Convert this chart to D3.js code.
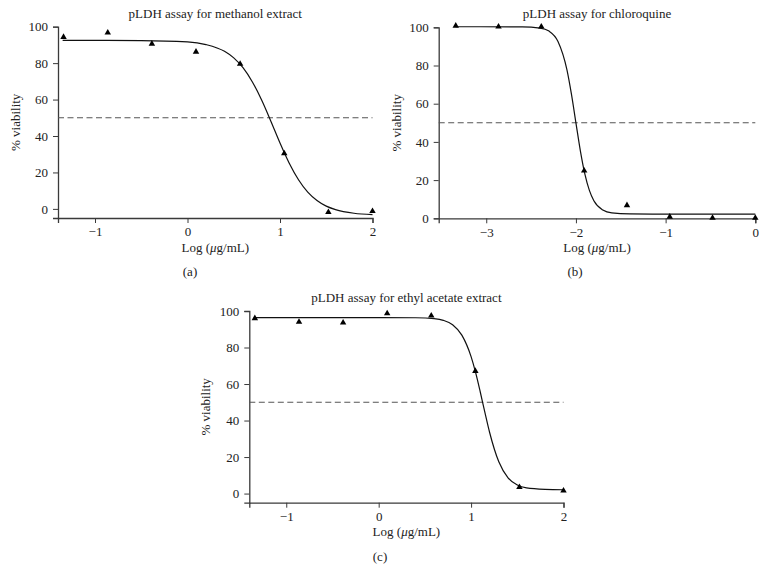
<!DOCTYPE html>
<html>
<head>
<meta charset="utf-8">
<script src="https://cdn.jsdelivr.net/npm/d3@7"></script>
<style>
  html, body { margin: 0; padding: 0; background: #fff; }
  svg { display: block; }
  text { font-family: "Liberation Serif", "DejaVu Serif", serif; fill: #222; }
</style>
</head>
<body>
<svg id="chart" width="766" height="584"></svg>
<script>
// ---------- Data ----------
const titles = ["pLDH assay for methanol extract", "pLDH assay for chloroquine", "pLDH assay for ethyl acetate extract"];
const captions = ["(a)", "(b)", "(c)"];
const xLabelParts = ["Log (", "\u03bc", "g/mL)"];
const yLabel = "% viability";

// panel (a) methanol extract
const methanolLogConc = [-1.340, -0.862, -0.385, 0.092, 0.569, 1.046, 1.523, 2.0];
const methanolViability = [94.3, 96.7, 90.6, 86.2, 79.6, 30.4, -1.8, -1.3];
const methanolCurveX = [-1.35, -0.5, 0, 0.2, 0.4, 0.5, 0.6, 0.7, 0.8, 0.9, 1.0, 1.1, 1.2, 1.3, 1.4, 1.5, 1.6, 1.8, 2.0];
const methanolCurveY = [92.5, 92.4, 91.7, 90.2, 86.5, 82.9, 77.5, 69.8, 59.9, 48.3, 36.2, 25.1, 16.0, 9.2, 4.6, 1.5, -0.4, -2.4, -3.1];
const methanolXTicks = [-1, 0, 1, 2];

// panel (b) chloroquine
const chloroLogConc = [-3.340, -2.863, -2.386, -1.908, -1.431, -0.954, -0.477, 0];
const chloroViability = [100.8, 100.3, 100.3, 24.9, 6.8, 0.8, 0.2, 0.2];
const chloroCurveX = [-3.34, -2.6, -2.4, -2.3, -2.2, -2.1, -2.05, -2.0, -1.95, -1.9, -1.85, -1.8, -1.7, -1.6, -1.4, -1.0, 0];
const chloroCurveY = [100.3, 100.25, 99.6, 98.0, 92.6, 77.7, 65.0, 50.0, 35.2, 23.1, 14.6, 9.2, 4.3, 2.8, 2.3, 2.2, 2.2];
const chloroXTicks = [-3, -2, -1, 0];

// panel (c) ethyl acetate extract
const ethylLogConc = [-1.340, -0.862, -0.385, 0.092, 0.569, 1.046, 1.523, 2.0];
const ethylViability = [96.0, 94.0, 93.6, 98.7, 97.4, 67.1, 3.5, 1.6];
const ethylCurveX = [-1.35, 0, 0.4, 0.6, 0.7, 0.8, 0.9, 1.0, 1.05, 1.1, 1.15, 1.2, 1.3, 1.4, 1.5, 1.6, 1.8, 2.0];
const ethylCurveY = [96.4, 96.4, 96.3, 95.8, 94.9, 92.5, 86.8, 75.0, 66.1, 55.5, 44.3, 33.6, 17.4, 8.6, 4.7, 3.1, 2.3, 2.1];
const ethylXTicks = [-1, 0, 1, 2];

const yTicks = [0, 20, 40, 60, 80, 100];
const halfLine = 50;

// ---------- Layout ----------
const panels = [
  { title: titles[0], caption: captions[0], px: methanolLogConc, py: methanolViability, cx: methanolCurveX, cy: methanolCurveY,
    xTicks: methanolXTicks, xDomain: [-1.4, 2], yDomain: [-5, 100],
    left: 58, right: 372.5, top: 26.7, bottom: 218, titleY: 15, yLabX: 17, capX: 190 },
  { title: titles[1], caption: captions[1], px: chloroLogConc, py: chloroViability, cx: chloroCurveX, cy: chloroCurveY,
    xTicks: chloroXTicks, xDomain: [-3.53, 0], yDomain: [0, 100],
    left: 438.7, right: 755.3, top: 27.3, bottom: 218.3, titleY: 15, yLabX: 398, capX: 575 },
  { title: titles[2], caption: captions[2], px: ethylLogConc, py: ethylViability, cx: ethylCurveX, cy: ethylCurveY,
    xTicks: ethylXTicks, xDomain: [-1.4, 2], yDomain: [-5, 100],
    left: 249.3, right: 563.5, top: 311, bottom: 502.7, titleY: 299, yLabX: 207, capX: 380 }
];

const svg = d3.select("#chart");
const axisColor = "#3a3a3a";
const FS = 13;

panels.forEach(p => {
  const x = d3.scaleLinear().domain(p.xDomain).range([p.left, p.right]);
  const y = d3.scaleLinear().domain(p.yDomain).range([p.bottom, p.top]);
  const g = svg.append("g");

  // x axis
  const gx = g.append("g").attr("transform", `translate(0,${p.bottom})`)
    .call(d3.axisBottom(x).tickValues(p.xTicks).tickSizeOuter(0).tickSize(5).tickPadding(4)
      .tickFormat(d => d < 0 ? "\u2212" + Math.abs(d) : String(d)));
  // y axis
  const gy = g.append("g").attr("transform", `translate(${p.left},0)`)
    .call(d3.axisLeft(y).tickValues(yTicks).tickSizeOuter(0).tickSize(5).tickPadding(5));
  [gx, gy].forEach(a => {
    a.select(".domain").attr("stroke", axisColor).attr("stroke-width", 1.3);
    a.selectAll(".tick line").attr("stroke", axisColor).attr("stroke-width", 1);
    a.selectAll(".tick text").attr("font-size", FS).attr("fill", "#222")
      .style("font-family", '"Liberation Serif", "DejaVu Serif", serif');
  });

  // dashed 50% line
  g.append("line")
    .attr("x1", x(p.xDomain[0])).attr("x2", x(p.xDomain[1]))
    .attr("y1", y(halfLine)).attr("y2", y(halfLine))
    .attr("stroke", "#555").attr("stroke-width", 1.1).attr("stroke-dasharray", "6,3.5");

  // fitted curve
  const curveData = p.cx.map((v, i) => [v, p.cy[i]]);
  g.append("path").datum(curveData)
    .attr("fill", "none").attr("stroke", "#111").attr("stroke-width", 1.2)
    .attr("d", d3.line().x(d => x(d[0])).y(d => y(d[1])).curve(d3.curveMonotoneX));

  // points
  const tri = d3.symbol(d3.symbolTriangle).size(18);
  g.selectAll("path.pt").data(p.px.map((v, i) => [v, p.py[i]])).enter()
    .append("path").attr("class", "pt")
    .attr("d", tri)
    .attr("transform", d => `translate(${x(d[0])},${y(d[1])})`)
    .attr("fill", "#000");

  // title
  g.append("text").attr("x", (p.left + p.right) / 2).attr("y", p.titleY)
    .attr("text-anchor", "middle").attr("dominant-baseline", "middle")
    .attr("font-size", FS).text(p.title);
  // x label
  const xl = g.append("text").attr("x", (p.left + p.right) / 2).attr("y", p.bottom + 30.5)
    .attr("text-anchor", "middle").attr("dominant-baseline", "middle")
    .attr("font-size", FS);
  xLabelParts.forEach((t, i) => {
    const ts = xl.append("tspan").text(t);
    if (i === 1) ts.attr("font-style", "italic");
  });
  // y label
  g.append("text").attr("transform", `translate(${p.yLabX},${(p.top + p.bottom) / 2}) rotate(-90)`)
    .attr("text-anchor", "middle").attr("dominant-baseline", "middle")
    .attr("font-size", FS).text(yLabel);
  // caption
  g.append("text").attr("x", p.capX).attr("y", p.bottom + 55)
    .attr("text-anchor", "middle").attr("dominant-baseline", "middle")
    .attr("font-size", FS).text(p.caption);
});
</script>
</body>
</html>
